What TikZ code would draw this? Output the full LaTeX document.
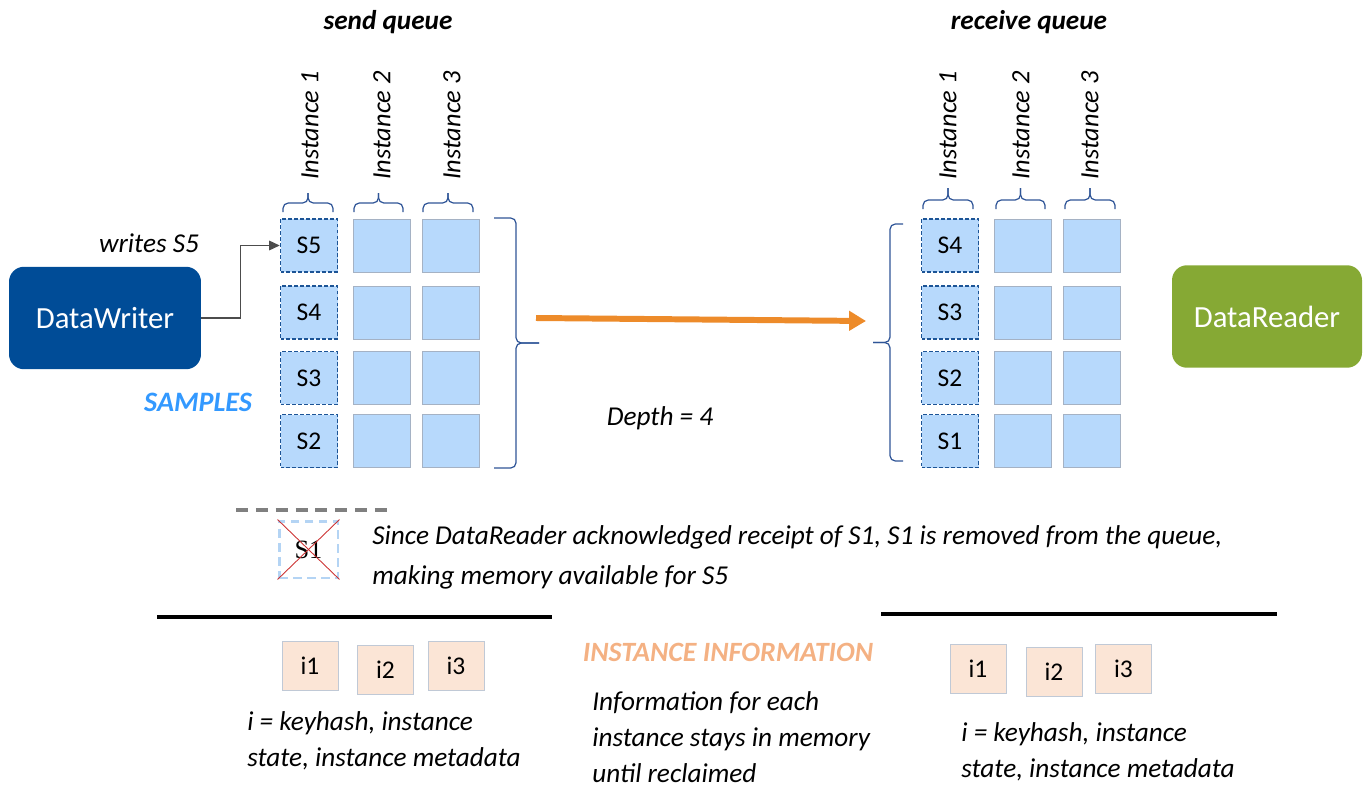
\documentclass[tikz,border=0pt]{standalone}
\usepackage{fontspec}
\setmainfont{Carlito}
\newfontfamily\oldserif{Liberation Serif}
\usetikzlibrary{arrows.meta}
\definecolor{writerblue}{RGB}{0,76,151}
\definecolor{readergreen}{RGB}{134,169,52}
\definecolor{cellblue}{RGB}{183,217,252}
\definecolor{celledge}{RGB}{165,178,196}
\definecolor{sampleedge}{RGB}{28,84,150}
\definecolor{bracecol}{RGB}{47,85,151}
\definecolor{samplesblue}{RGB}{51,153,255}
\definecolor{floworange}{RGB}{237,139,42}
\definecolor{infopeach}{RGB}{251,229,214}
\definecolor{infoorange}{RGB}{244,177,131}
\definecolor{goneblue}{RGB}{180,212,244}

\begin{document}
\begin{tikzpicture}[x=0.02cm,y=-0.02cm,
  every node/.style={inner sep=0pt},
  cell/.style={draw=celledge,fill=cellblue,minimum width=1.14cm,minimum height=1.06cm},
  sample/.style={cell,draw=sampleedge,dash pattern=on 2.2pt off 1.2pt,line width=0.9pt,
    font=\fontsize{14.5}{16}\selectfont},
  endpoint/.style={rounded corners=0.3cm,text=white,font=\fontsize{17.5}{20}\selectfont,
    minimum height=2.05cm},
  inst/.style={rotate=90,anchor=west,font=\itshape\fontsize{15}{18}\selectfont},
  title/.style={font=\bfseries\itshape\fontsize{15.5}{17}\selectfont},
  body/.style={align=left,font=\itshape\fontsize{15.5}{20.5}\selectfont},
  qbrace/.style={draw=bracecol,line width=0.7pt,rounded corners=3pt},
  info/.style={draw=celledge!70,fill=infopeach,minimum width=1.12cm,minimum height=0.98cm,
    font=\fontsize{14.5}{16}\selectfont},
  rule/.style={line width=2.8pt}]
\useasboundingbox (0,0) rectangle (1364,787);

\node[title] (sendq) at (388,22) {send queue};
\node[title] (recvq) at (1029,22) {receive queue};

\node[inst] (si1) at (310,180) {Instance 1};
\node[inst] (si2) at (382,180) {Instance 2};
\node[inst] (si3) at (452,180) {Instance 3};
\node[inst] (ri1) at (948,180) {Instance 1};
\node[inst] (ri2) at (1021,180) {Instance 2};
\node[inst] (ri3) at (1090,180) {Instance 3};

\foreach \a/\b/\c in {283/333/308,354/403/378.5,423/473/448}{
  \draw[qbrace] (\a,212) |- (\c,203) -- (\c,193);
  \draw[qbrace] (\b,212) |- (\c,203) -- (\c,193);
}
\foreach \a/\b/\c in {923/973/948,996/1045/1020.5,1065/1115/1090}{
  \draw[qbrace] (\a,209) |- (\c,200) -- (\c,188);
  \draw[qbrace] (\b,209) |- (\c,200) -- (\c,188);
}

\foreach \r/\y/\s in {1/245.5/S5,2/312.5/S4,3/378/S3,4/441/S2}{
  \node[sample] (sq\r a) at (309,\y) {\s};
  \node[cell] (sq\r b) at (381.5,\y) {};
  \node[cell] (sq\r c) at (451,\y) {};
}
\foreach \r/\y/\s in {1/245.5/S4,2/312.5/S3,3/378/S2,4/441/S1}{
  \node[sample] (rq\r a) at (950,\y) {\s};
  \node[cell] (rq\r b) at (1022.5,\y) {};
  \node[cell] (rq\r c) at (1091.5,\y) {};
}

\draw[qbrace] (494,218) -| (516,343) -- (539,343);
\draw[qbrace] (494,468) -| (516,343) -- (539,343);
\draw[qbrace] (903,224) -| (890,342.5) -- (873,342.5);
\draw[qbrace] (903,461) -| (890,342.5) -- (873,342.5);

\node[endpoint,fill=writerblue,minimum width=3.84cm] (dw) at (105,318) {DataWriter};
\node[endpoint,fill=readergreen,minimum width=3.8cm] (dr) at (1267,316.5) {DataReader};

\node[font=\itshape\fontsize{15.5}{17}\selectfont] (wr) at (149,243) {writes S5};
\draw[draw=black!70,line width=0.6pt,-{Triangle[length=6pt,width=5.5pt]}]
  (dw.east) -- ++(39,0) |- (sq1a.west);

\node[text=samplesblue,font=\bfseries\itshape\fontsize{16}{18}\selectfont] (smp) at (198,402) {SAMPLES};

\coordinate (qa) at (536,318);
\coordinate (qb) at (866,321);
\draw[floworange,line width=3.4pt,-{Triangle[length=9.6pt,width=10.8pt]}] (qa) -- (qb);
\node[font=\itshape\fontsize{15.5}{18}\selectfont] (dep) at (660,418) {Depth = 4};

\draw[black!50,line width=2.3pt,dash pattern=on 6.8pt off 4.5pt] (236,510) -- (393,510);
\node[draw=goneblue,line width=1.7pt,dash pattern=on 5pt off 3pt,minimum width=1.18cm,
  minimum height=1.14cm,font=\oldserif\fontsize{15}{16}\selectfont] (gone) at (308.5,549.5) {S1};
\draw[red!75!black!80,line width=0.5pt] (gone.north west) -- (gone.south east);
\draw[red!75!black!80,line width=0.5pt] (gone.north east) -- (gone.south west);
\node[body,anchor=west,font=\itshape\fontsize{15.5}{22.7}\selectfont] (note) at (372,557)
  {Since DataReader acknowledged receipt of S1, S1 is removed from the queue,\\making memory available for S5};

\draw[rule] (157,617) -- (552,617);
\draw[rule] (881,614) -- (1277,614);

\node[info] (li1) at (310,665.5) {i1};
\node[info] (li2) at (385.5,670) {i2};
\node[info] (li3) at (456,666) {i3};
\node[info] (ri1b) at (978,668.5) {i1};
\node[info] (ri2b) at (1054,672) {i2};
\node[info] (ri3b) at (1123.5,668.5) {i3};

\node[text=infoorange,font=\bfseries\itshape\fontsize{15.9}{17}\selectfont] (insinfo) at (728,652)
  {INSTANCE INFORMATION};
\node[body,anchor=west] (ltext) at (247,741) {i = keyhash, instance\\state, instance metadata};
\node[body,anchor=west] (mtext) at (592,737) {Information for each\\instance stays in memory\\until reclaimed};
\node[body,anchor=west] (rtext) at (961,752) {i = keyhash, instance\\state, instance metadata};
\end{tikzpicture}
\end{document}
